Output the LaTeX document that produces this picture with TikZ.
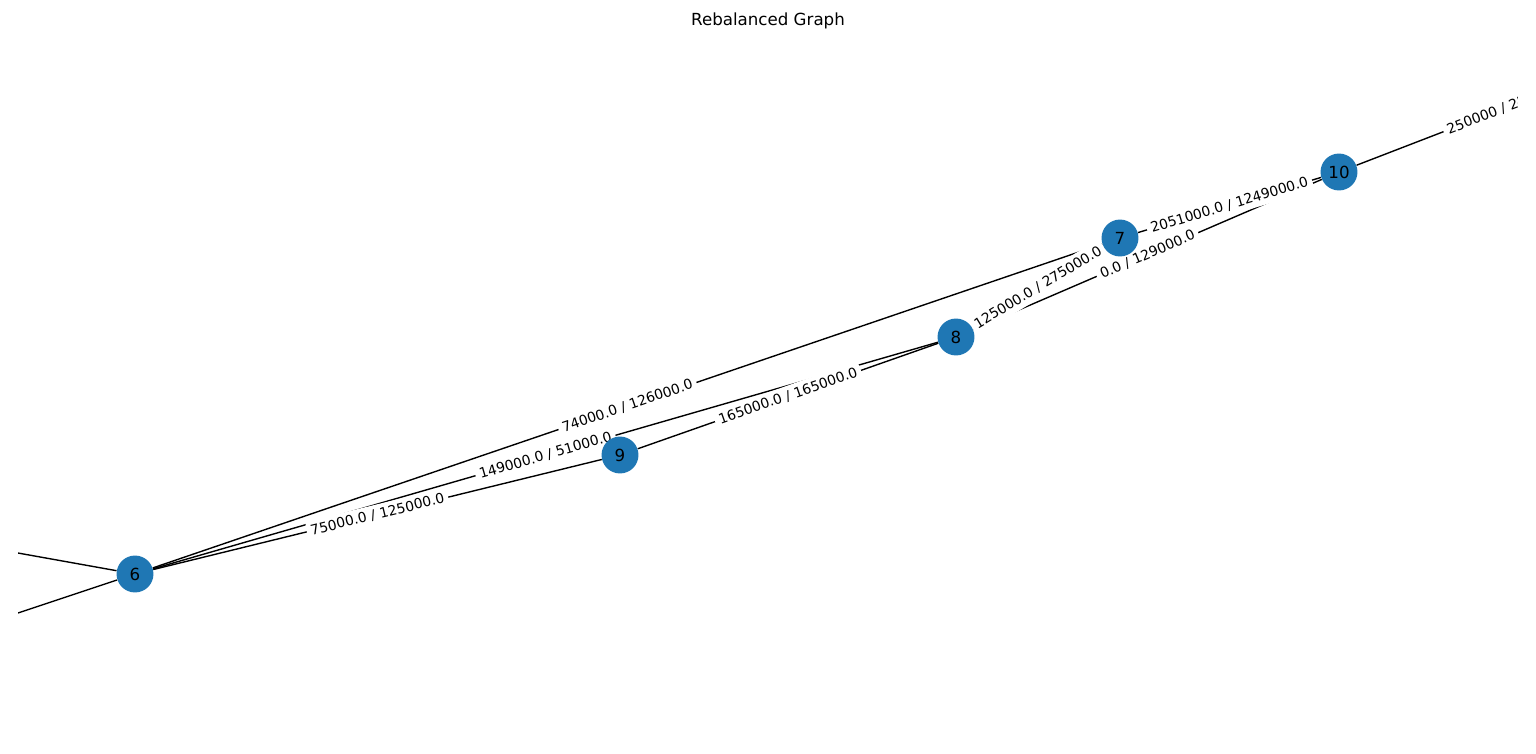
\documentclass[tikz,border=0pt]{standalone}
\usepackage{fontspec}
\setmainfont{DejaVu Sans}
\definecolor{nodeblue}{HTML}{1F77B4}
\pgfdeclarelayer{edges}
\pgfsetlayers{edges,main}

\begin{document}
\begin{tikzpicture}[x=0.72pt,y=-0.72pt,
    gnode/.style={circle,fill=nodeblue,minimum size=26.6pt,inner sep=0pt,font=\fontsize{12}{14}\selectfont},
    elabel/.style={fill=white,rounded corners=3pt,inner sep=3pt,midway,sloped,font=\fontsize{10}{12}\selectfont},
    link/.style={line width=1pt}]
  \useasboundingbox (0,0) rectangle (1536,754);
  \node[font=\fontsize{12}{14}\selectfont] (title) at (768,21) {Rebalanced Graph};

  \node[gnode] (n6) at (135,574) {6};
  \node[gnode] (n9) at (620,455) {9};
  \node[gnode] (n8) at (956,337) {8};
  \node[gnode] (n7) at (1120,238) {7};
  \node[gnode] (n10) at (1339,172) {10};

  % nodes outside the plot area
  \coordinate (west1) at (-300,496);
  \coordinate (west2) at (-300,719);
  \coordinate (east1) at (1650,52);

  \begin{pgfonlayer}{edges}
    \clip (18,36) rectangle (1517,718);
    \draw[link] (n6) -- (west1);
    \draw[link] (n6) -- (west2);
    \draw[link] (n6) -- (n7);
    \draw[link] (n6) -- (n8);
    \draw[link] (n6) -- (n9);
    \draw[link] (n9) -- (n8);
    \draw[link] (n8) -- (n7);
    \draw[link] (n8) -- (n10);
    \draw[link] (n7) -- (n10);
    \draw[link] (n10) -- (east1);

    \path (n6) -- (n7) node[elabel] {74000.0 / 126000.0};
    \path (n6) -- (n8) node[elabel] {149000.0 / 51000.0};
    \path (n6) -- (n9) node[elabel] {75000.0 / 125000.0};
    \path (n9) -- (n8) node[elabel] {165000.0 / 165000.0};
    \path (n8) -- (n7) node[elabel] {125000.0 / 275000.0};
    \path (n8) -- (n10) node[elabel] {0.0 / 129000.0};
    \path (n7) -- (n10) node[elabel] {2051000.0 / 1249000.0};
    \path (n10) -- (east1) node[elabel] {250000 / 250000};
  \end{pgfonlayer}
\end{tikzpicture}
\end{document}
